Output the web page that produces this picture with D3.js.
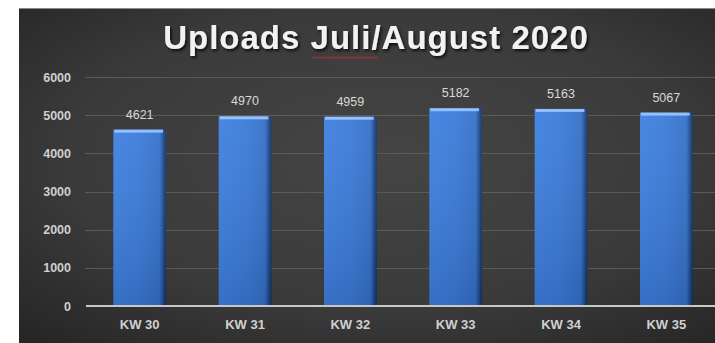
<!DOCTYPE html>
<html>
<head>
<meta charset="utf-8">
<script src="https://cdn.jsdelivr.net/npm/d3@7"></script>
<style>
  html, body { margin: 0; padding: 0; background: #ffffff; }
  svg { display: block; }
</style>
</head>
<body>
<svg id="chart" width="715" height="343"></svg>
<script>
// Weekly upload counts, calendar weeks 30–35
const weeks = ["KW 30", "KW 31", "KW 32", "KW 33", "KW 34", "KW 35"];
const uploads = [4621, 4970, 4959, 5182, 5163, 5067];
const yTicks = [0, 1000, 2000, 3000, 4000, 5000, 6000];
const title = "Uploads Juli/August 2020";

const W = 715, H = 343;
const panel = { x: 19, y: 8 };
const plot = { left: 87, right: 719, top: 77, bottom: 306 };

const svg = d3.select("#chart");
const defs = svg.append("defs");

// Dark panel background: lighter in the middle, fading to the edges
const bg = defs.append("radialGradient").attr("id", "bgGrad")
  .attr("cx", "52%").attr("cy", "45%").attr("r", "75%");
bg.append("stop").attr("offset", "0%").attr("stop-color", "#454545");
bg.append("stop").attr("offset", "60%").attr("stop-color", "#3a3a3a");
bg.append("stop").attr("offset", "100%").attr("stop-color", "#252525");

// Bar fill: horizontal shading, bright left, dark navy right edge
const barGrad = defs.append("linearGradient").attr("id", "barGrad")
  .attr("x1", "0%").attr("x2", "100%").attr("y1", "0%").attr("y2", "0%");
barGrad.append("stop").attr("offset", "0%").attr("stop-color", "#3d7fe0");
barGrad.append("stop").attr("offset", "50%").attr("stop-color", "#3a7ad8");
barGrad.append("stop").attr("offset", "88%").attr("stop-color", "#3470c8");
barGrad.append("stop").attr("offset", "100%").attr("stop-color", "#0f2f66");

const barV = defs.append("linearGradient").attr("id", "barShade")
  .attr("x1", "0%").attr("x2", "0%").attr("y1", "0%").attr("y2", "100%");
barV.append("stop").attr("offset", "0%").attr("stop-color", "#ffffff").attr("stop-opacity", 0.06);
barV.append("stop").attr("offset", "100%").attr("stop-color", "#000000").attr("stop-opacity", 0.12);

const shadow = defs.append("filter").attr("id", "txtShadow")
  .attr("x", "-5%").attr("y", "-20%").attr("width", "110%").attr("height", "150%");
shadow.append("feDropShadow").attr("dx", 1.5).attr("dy", 2).attr("stdDeviation", 1.5)
  .attr("flood-color", "#000000").attr("flood-opacity", 0.8);

svg.append("rect")
  .attr("x", panel.x).attr("y", panel.y)
  .attr("width", W - panel.x).attr("height", H - panel.y)
  .attr("fill", "url(#bgGrad)");
svg.append("line")
  .attr("x1", panel.x).attr("x2", W).attr("y1", panel.y + 0.5).attr("y2", panel.y + 0.5)
  .attr("stroke", "#8a8a8a").attr("stroke-width", 1);

// Scales
const x = d3.scaleBand().domain(weeks).range([plot.left, plot.right]).paddingInner(0.5).paddingOuter(0.25);
const y = d3.scaleLinear().domain([0, 6000]).range([plot.bottom, plot.top]);

// Gridlines
svg.append("g")
  .selectAll("line")
  .data(yTicks.filter(d => d > 0))
  .join("line")
  .attr("x1", plot.left - 2).attr("x2", W)
  .attr("y1", d => Math.round(y(d)) + 0.5).attr("y2", d => Math.round(y(d)) + 0.5)
  .attr("stroke", "#5a5a5a").attr("stroke-width", 1);

// Y axis labels
const yAxis = svg.append("g")
  .attr("transform", `translate(${plot.left - 16},0)`)
  .call(d3.axisLeft(y).tickValues(yTicks).tickFormat(d3.format("d")).tickSize(0).tickPadding(0));
yAxis.select(".domain").remove();
yAxis.selectAll("text")
  .attr("fill", "#d0d0d0")
  .style("font-family", "'Liberation Sans', Arial, sans-serif")
  .style("font-size", "12.5px")
  .style("font-weight", "bold");

// Bars
const bars = svg.append("g");
const data = weeks.map((w, i) => ({ week: w, value: uploads[i] }));
bars.selectAll("rect.bar")
  .data(data)
  .join("rect")
  .attr("class", "bar")
  .attr("x", d => x(d.week))
  .attr("y", d => y(d.value))
  .attr("width", x.bandwidth())
  .attr("height", d => y(0) - y(d.value))
  .attr("fill", "url(#barGrad)");
bars.selectAll("rect.shade")
  .data(data)
  .join("rect")
  .attr("class", "shade")
  .attr("x", d => x(d.week))
  .attr("y", d => y(d.value))
  .attr("width", x.bandwidth())
  .attr("height", d => y(0) - y(d.value))
  .attr("fill", "url(#barShade)");
// Light bevel along the top of each bar
bars.selectAll("rect.cap")
  .data(data)
  .join("rect")
  .attr("class", "cap")
  .attr("x", d => x(d.week) + 1)
  .attr("y", d => y(d.value))
  .attr("width", x.bandwidth() - 4)
  .attr("height", 3)
  .attr("fill", "#9cc8ff")
  .attr("opacity", 0.9);

// Baseline
svg.append("line")
  .attr("x1", plot.left - 1).attr("x2", W)
  .attr("y1", y(0)).attr("y2", y(0))
  .attr("stroke", "#c8c8c8").attr("stroke-width", 2);

// Value labels
svg.append("g")
  .selectAll("text")
  .data(data)
  .join("text")
  .attr("x", d => x(d.week) + x.bandwidth() / 2)
  .attr("y", d => y(d.value) - 11)
  .attr("text-anchor", "middle")
  .attr("fill", "#d8d8d8")
  .style("font-family", "'Liberation Sans', Arial, sans-serif")
  .style("font-size", "12.5px")
  .text(d => d.value);

// Category labels
const xAxis = svg.append("g")
  .attr("transform", `translate(0,${plot.bottom + 14})`)
  .call(d3.axisBottom(x).tickSize(0).tickPadding(0));
xAxis.select(".domain").remove();
xAxis.selectAll("text")
  .attr("fill", "#d0d0d0")
  .style("font-family", "'Liberation Sans', Arial, sans-serif")
  .style("font-size", "13px")
  .style("font-weight", "bold");

// Title
svg.append("text")
  .attr("x", 376).attr("y", 49)
  .attr("text-anchor", "middle")
  .attr("fill", "#f2f2f2")
  .attr("filter", "url(#txtShadow)")
  .style("font-family", "'Liberation Sans', Arial, sans-serif")
  .style("font-size", "33px")
  .style("font-weight", "bold")
  .style("letter-spacing", "1px")
  .text(title);

// Wavy red proofing underline under "Juli"
const waveX0 = 312, waveX1 = 378, waveY = 57;
const wave = d3.range(waveX0, waveX1 + 0.1, 2).map((px, i) => [px, waveY + (i % 2 ? 1.5 : -0.5)]);
svg.append("path")
  .attr("d", d3.line()(wave))
  .attr("fill", "none")
  .attr("stroke", "#d03030")
  .attr("stroke-width", 1);
</script>
</body>
</html>
